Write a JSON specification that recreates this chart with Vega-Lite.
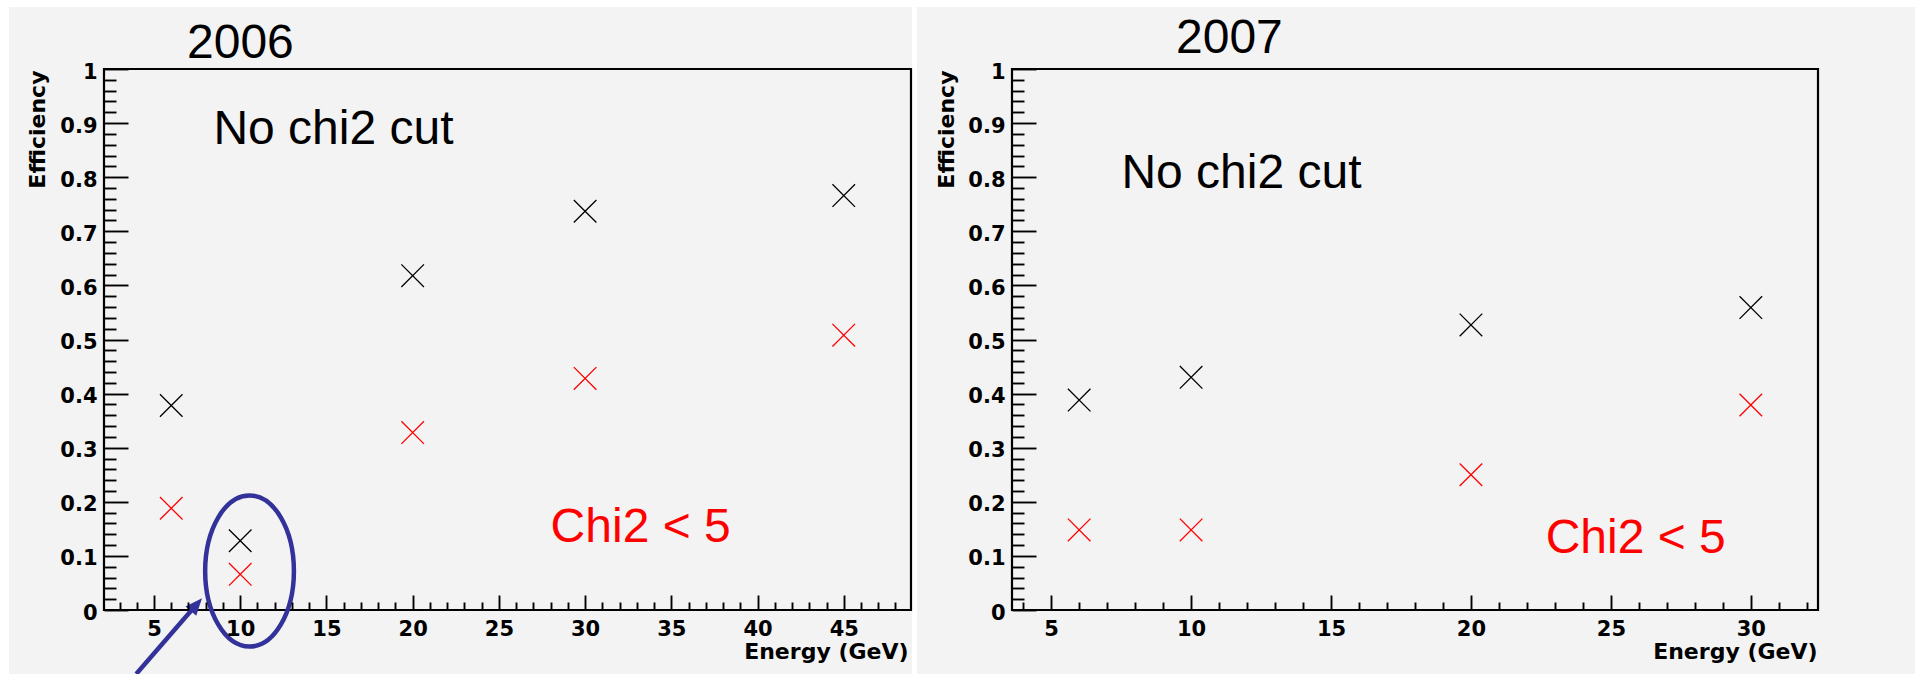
{
  "$schema": "https://vega.github.io/schema/vega-lite/v6.json",
  "background": "white",
  "padding": {"left": 9, "top": 7, "right": 0, "bottom": 0},
  "spacing": 101,
  "bounds": "flush",
  "data": {
    "values": [
      {"year": 2006, "energy": 6, "efficiency": 0.378, "selection": "No chi2 cut"},
      {"year": 2006, "energy": 10, "efficiency": 0.128, "selection": "No chi2 cut"},
      {"year": 2006, "energy": 20, "efficiency": 0.618, "selection": "No chi2 cut"},
      {"year": 2006, "energy": 30, "efficiency": 0.737, "selection": "No chi2 cut"},
      {"year": 2006, "energy": 45, "efficiency": 0.766, "selection": "No chi2 cut"},
      {"year": 2006, "energy": 6, "efficiency": 0.188, "selection": "Chi2 < 5"},
      {"year": 2006, "energy": 10, "efficiency": 0.066, "selection": "Chi2 < 5"},
      {"year": 2006, "energy": 20, "efficiency": 0.328, "selection": "Chi2 < 5"},
      {"year": 2006, "energy": 30, "efficiency": 0.428, "selection": "Chi2 < 5"},
      {"year": 2006, "energy": 45, "efficiency": 0.508, "selection": "Chi2 < 5"},
      {"year": 2007, "energy": 6, "efficiency": 0.388, "selection": "No chi2 cut"},
      {"year": 2007, "energy": 10, "efficiency": 0.430, "selection": "No chi2 cut"},
      {"year": 2007, "energy": 20, "efficiency": 0.527, "selection": "No chi2 cut"},
      {"year": 2007, "energy": 30, "efficiency": 0.559, "selection": "No chi2 cut"},
      {"year": 2007, "energy": 6, "efficiency": 0.148, "selection": "Chi2 < 5"},
      {"year": 2007, "energy": 10, "efficiency": 0.148, "selection": "Chi2 < 5"},
      {"year": 2007, "energy": 20, "efficiency": 0.250, "selection": "Chi2 < 5"},
      {"year": 2007, "energy": 30, "efficiency": 0.379, "selection": "Chi2 < 5"}
    ]
  },
  "hconcat": [
    {
      "width": 807,
      "height": 541,
      "layer": [
        {
          "data": {"values": [{}]},
          "mark": {"type": "rect", "fill": "#f3f3f3"},
          "encoding": {
            "x": {"datum": -3.409, "type": "quantitative", "scale": {"domain": [2.1, 48.9], "nice": false, "zero": false},
              "axis": {"orient": "bottom", "zindex": 1, "values": [3, 4, 6, 7, 8, 9, 11, 12, 13, 14, 16, 17, 18, 19, 21, 22, 23, 24, 26, 27, 28, 29, 31, 32, 33, 34, 36, 37, 38, 39, 41, 42, 43, 44, 46, 47, 48], "tickSize": -8, "labels": false, "title": null}},
            "x2": {"datum": 48.958},
            "y": {"datum": -0.1183, "type": "quantitative", "scale": {"domain": [0, 1], "nice": false},
              "axis": {"orient": "left", "zindex": 1, "values": [0.02, 0.04, 0.06, 0.08, 0.12, 0.14, 0.16, 0.18, 0.22, 0.24, 0.26, 0.28, 0.32, 0.34, 0.36, 0.38, 0.42, 0.44, 0.46, 0.48, 0.52, 0.54, 0.56, 0.58, 0.62, 0.64, 0.66, 0.68, 0.72, 0.74, 0.76, 0.78, 0.82, 0.84, 0.86, 0.88, 0.92, 0.94, 0.96, 0.98], "tickSize": -12, "labels": false, "title": null}},
            "y2": {"datum": 1.1146}
          }
        },
        {
          "data": {"values": [{}]},
          "mark": {"type": "rect", "filled": false, "stroke": "#000", "strokeWidth": 2.2},
          "encoding": {
            "x": {"datum": 2.1, "type": "quantitative", "scale": {"domain": [2.1, 48.9], "nice": false, "zero": false}, "axis": null},
            "x2": {"datum": 48.9},
            "y": {"datum": 0, "type": "quantitative", "scale": {"domain": [0, 1], "nice": false}, "axis": null},
            "y2": {"datum": 1}
          }
        },
        {
          "transform": [{"filter": "datum.year === 2006"}],
          "mark": {"type": "point", "shape": "M-1,-1L1,1M-1,1L1,-1", "size": 510, "filled": false, "strokeWidth": 1.3, "opacity": 1},
          "encoding": {
            "x": {"field": "energy", "type": "quantitative", "scale": {"domain": [2.1, 48.9], "nice": false, "zero": false},
              "axis": {"orient": "bottom", "zindex": 1, "values": [5, 10, 15, 20, 25, 30, 35, 40, 45], "format": "~g", "tickSize": -15, "labelPadding": 23.4, "labelFlush": false,
                "title": "Energy (GeV)", "titleX": 804, "titleY": 48, "titleAlign": "right", "titleBaseline": "alphabetic", "titleAngle": 0}},
            "y": {"field": "efficiency", "type": "quantitative", "scale": {"domain": [0, 1], "nice": false},
              "axis": {"orient": "left", "zindex": 1, "values": [0, 0.1, 0.2, 0.3, 0.4, 0.5, 0.6, 0.7, 0.8, 0.9, 1], "format": "~g", "tickSize": -24, "labelPadding": 31, "labelOffset": 3, "labelBaseline": "middle", "labelAlign": "right", "labelFlush": false,
                "title": "Efficiency", "titleX": -60, "titleY": 1, "titleAngle": 270, "titleAlign": "right", "titleBaseline": "alphabetic"}},
            "color": {"field": "selection", "type": "nominal", "scale": {"domain": ["No chi2 cut", "Chi2 < 5"], "range": ["#000000", "#ff0000"]}, "legend": null}
          }
        },
        {
          "data": {"values": [{}]},
          "mark": {"type": "text", "text": "2006", "font": "Liberation Sans", "fontSize": 48, "align": "left", "baseline": "alphabetic", "color": "#000"},
          "encoding": {
            "x": {"datum": 6.913, "type": "quantitative", "scale": {"domain": [2.1, 48.9], "nice": false, "zero": false}, "axis": null},
            "y": {"datum": 1.0203, "type": "quantitative", "scale": {"domain": [0, 1], "nice": false}, "axis": null}
          }
        },
        {
          "data": {"values": [{}]},
          "mark": {"type": "text", "text": "No chi2 cut", "font": "Liberation Sans", "fontSize": 48, "align": "left", "baseline": "alphabetic", "color": "#000"},
          "encoding": {
            "x": {"datum": 8.444, "type": "quantitative", "scale": {"domain": [2.1, 48.9], "nice": false, "zero": false}, "axis": null},
            "y": {"datum": 0.8614, "type": "quantitative", "scale": {"domain": [0, 1], "nice": false}, "axis": null}
          }
        },
        {
          "data": {"values": [{}]},
          "mark": {"type": "text", "text": "Chi2 < 5", "font": "Liberation Sans", "fontSize": 48, "align": "left", "baseline": "alphabetic", "color": "#ff0000"},
          "encoding": {
            "x": {"datum": 28.0, "type": "quantitative", "scale": {"domain": [2.1, 48.9], "nice": false, "zero": false}, "axis": null},
            "y": {"datum": 0.1257, "type": "quantitative", "scale": {"domain": [0, 1], "nice": false}, "axis": null}
          }
        },
        {
          "data": {"values": [{}]},
          "mark": {"type": "point", "shape": "M0,-1C0.3242,-1,0.587,-0.5523,0.587,0C0.587,0.5523,0.3242,1,0,1C-0.3242,1,-0.587,0.5523,-0.587,0C-0.587,-0.5523,-0.3242,-1,0,-1Z", "size": 22861, "filled": false, "stroke": "#32329a", "strokeWidth": 4.5, "opacity": 1},
          "encoding": {
            "x": {"datum": 10.54, "type": "quantitative", "scale": {"domain": [2.1, 48.9], "nice": false, "zero": false}, "axis": null},
            "y": {"datum": 0.0721, "type": "quantitative", "scale": {"domain": [0, 1], "nice": false}, "axis": null}
          }
        },
        {
          "data": {"values": [{"ax": 3.967, "ay": -0.1183}, {"ax": 7.400, "ay": 0.0077}]},
          "mark": {"type": "line", "stroke": "#32329a", "strokeWidth": 4.5, "strokeCap": "butt"},
          "encoding": {
            "x": {"field": "ax", "type": "quantitative", "scale": {"domain": [2.1, 48.9], "nice": false, "zero": false}, "axis": null},
            "y": {"field": "ay", "type": "quantitative", "scale": {"domain": [0, 1], "nice": false}, "axis": null}
          }
        },
        {
          "data": {"values": [{}]},
          "mark": {"type": "point", "shape": "M0,0L0.42,1L-0.42,1Z", "size": 1156, "filled": true, "color": "#32329a", "angle": 41, "opacity": 1},
          "encoding": {
            "x": {"datum": 7.783, "type": "quantitative", "scale": {"domain": [2.1, 48.9], "nice": false, "zero": false}, "axis": null},
            "y": {"datum": 0.0216, "type": "quantitative", "scale": {"domain": [0, 1], "nice": false}, "axis": null}
          }
        }
      ],
      "resolve": {"axis": {"x": "independent", "y": "independent"}}
    },
    {
      "width": 806,
      "height": 541,
      "layer": [
        {
          "data": {"values": [{}]},
          "mark": {"type": "rect", "fill": "#f3f3f3"},
          "encoding": {
            "x": {"datum": 0.2054, "type": "quantitative", "scale": {"domain": [3.6, 32.4], "nice": false, "zero": false},
              "axis": {"orient": "bottom", "zindex": 1, "values": [4, 6, 7, 8, 9, 11, 12, 13, 14, 16, 17, 18, 19, 21, 22, 23, 24, 26, 27, 28, 29, 31, 32], "tickSize": -8, "labels": false, "title": null}},
            "x2": {"datum": 35.866},
            "y": {"datum": -0.1183, "type": "quantitative", "scale": {"domain": [0, 1], "nice": false},
              "axis": {"orient": "left", "zindex": 1, "values": [0.02, 0.04, 0.06, 0.08, 0.12, 0.14, 0.16, 0.18, 0.22, 0.24, 0.26, 0.28, 0.32, 0.34, 0.36, 0.38, 0.42, 0.44, 0.46, 0.48, 0.52, 0.54, 0.56, 0.58, 0.62, 0.64, 0.66, 0.68, 0.72, 0.74, 0.76, 0.78, 0.82, 0.84, 0.86, 0.88, 0.92, 0.94, 0.96, 0.98], "tickSize": -12, "labels": false, "title": null}},
            "y2": {"datum": 1.1146}
          }
        },
        {
          "data": {"values": [{}]},
          "mark": {"type": "rect", "filled": false, "stroke": "#000", "strokeWidth": 2.2},
          "encoding": {
            "x": {"datum": 3.6, "type": "quantitative", "scale": {"domain": [3.6, 32.4], "nice": false, "zero": false}, "axis": null},
            "x2": {"datum": 32.4},
            "y": {"datum": 0, "type": "quantitative", "scale": {"domain": [0, 1], "nice": false}, "axis": null},
            "y2": {"datum": 1}
          }
        },
        {
          "transform": [{"filter": "datum.year === 2007"}],
          "mark": {"type": "point", "shape": "M-1,-1L1,1M-1,1L1,-1", "size": 510, "filled": false, "strokeWidth": 1.3, "opacity": 1},
          "encoding": {
            "x": {"field": "energy", "type": "quantitative", "scale": {"domain": [3.6, 32.4], "nice": false, "zero": false},
              "axis": {"orient": "bottom", "zindex": 1, "values": [5, 10, 15, 20, 25, 30], "format": "~g", "tickSize": -15, "labelPadding": 23.4, "labelFlush": false,
                "title": "Energy (GeV)", "titleX": 805, "titleY": 48, "titleAlign": "right", "titleBaseline": "alphabetic", "titleAngle": 0}},
            "y": {"field": "efficiency", "type": "quantitative", "scale": {"domain": [0, 1], "nice": false},
              "axis": {"orient": "left", "zindex": 1, "values": [0, 0.1, 0.2, 0.3, 0.4, 0.5, 0.6, 0.7, 0.8, 0.9, 1], "format": "~g", "tickSize": -24, "labelPadding": 31, "labelOffset": 3, "labelBaseline": "middle", "labelAlign": "right", "labelFlush": false,
                "title": "Efficiency", "titleX": -59, "titleY": 1, "titleAngle": 270, "titleAlign": "right", "titleBaseline": "alphabetic"}},
            "color": {"field": "selection", "type": "nominal", "scale": {"domain": ["No chi2 cut", "Chi2 < 5"], "range": ["#000000", "#ff0000"]}, "legend": null}
          }
        },
        {
          "data": {"values": [{}]},
          "mark": {"type": "text", "text": "2007", "font": "Liberation Sans", "fontSize": 48, "align": "left", "baseline": "alphabetic", "color": "#000"},
          "encoding": {
            "x": {"datum": 9.46, "type": "quantitative", "scale": {"domain": [3.6, 32.4], "nice": false, "zero": false}, "axis": null},
            "y": {"datum": 1.0296, "type": "quantitative", "scale": {"domain": [0, 1], "nice": false}, "axis": null}
          }
        },
        {
          "data": {"values": [{}]},
          "mark": {"type": "text", "text": "No chi2 cut", "font": "Liberation Sans", "fontSize": 48, "align": "left", "baseline": "alphabetic", "color": "#000"},
          "encoding": {
            "x": {"datum": 7.509, "type": "quantitative", "scale": {"domain": [3.6, 32.4], "nice": false, "zero": false}, "axis": null},
            "y": {"datum": 0.780, "type": "quantitative", "scale": {"domain": [0, 1], "nice": false}, "axis": null}
          }
        },
        {
          "data": {"values": [{}]},
          "mark": {"type": "text", "text": "Chi2 < 5", "font": "Liberation Sans", "fontSize": 48, "align": "left", "baseline": "alphabetic", "color": "#ff0000"},
          "encoding": {
            "x": {"datum": 22.67, "type": "quantitative", "scale": {"domain": [3.6, 32.4], "nice": false, "zero": false}, "axis": null},
            "y": {"datum": 0.1054, "type": "quantitative", "scale": {"domain": [0, 1], "nice": false}, "axis": null}
          }
        }
      ],
      "resolve": {"axis": {"x": "independent", "y": "independent"}}
    }
  ],
  "config": {
    "view": {"stroke": null},
    "axis": {
      "zindex": 1,
      "grid": false,
      "domain": false,
      "tickColor": "#000",
      "tickWidth": 1.9,
      "labelColor": "#000",
      "labelFont": "DejaVu Sans",
      "labelFontWeight": "bold",
      "labelFontSize": 21,
      "titleColor": "#000",
      "titleFont": "DejaVu Sans",
      "titleFontWeight": "bold",
      "titleFontSize": 22
    }
  }
}
